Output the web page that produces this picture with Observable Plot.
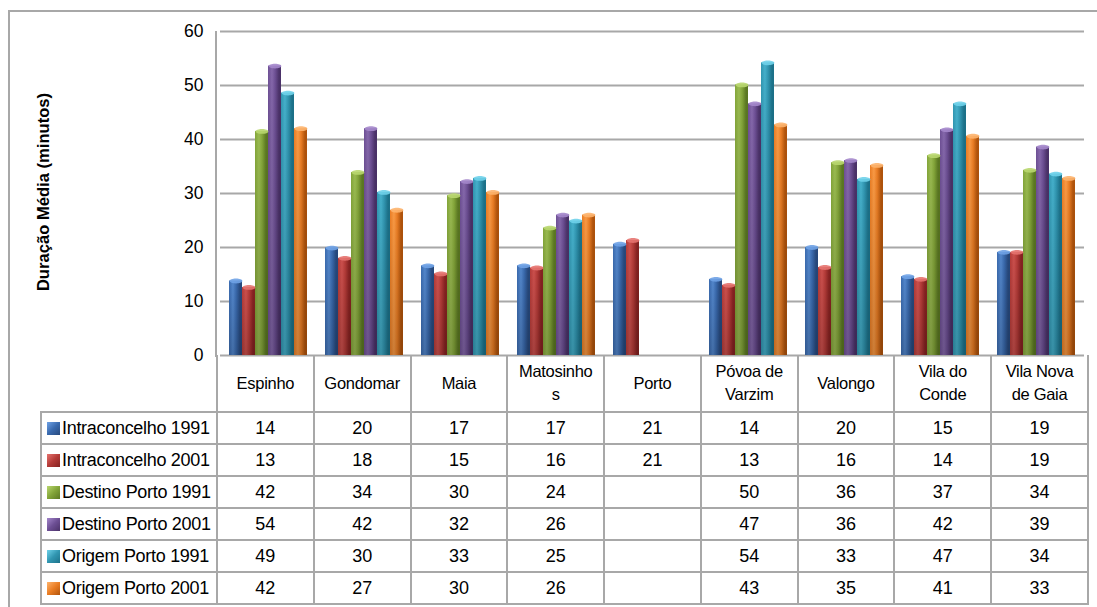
<!DOCTYPE html>
<html>
<head>
<meta charset="utf-8">
<script src="https://cdn.jsdelivr.net/npm/d3@7"></script>
<script src="https://cdn.jsdelivr.net/npm/@observablehq/plot@0.6"></script>
<style>
  html, body { margin: 0; padding: 0; background: #fff; }
  #wrap { position: relative; width: 1097px; height: 607px; overflow: hidden; font-family: "Liberation Sans", Arial, sans-serif; color: #000; }
  #outer { position: absolute; left: 8px; top: 10px; width: 1200px; height: 700px; border-left: 2px solid #a8a8a8; border-top: 2px solid #a8a8a8; }
  #chart { position: absolute; left: 0; top: 0; }
  #axisline { position: absolute; left: 215px; top: 31px; width: 2px; height: 326px; background: #a8a8a8; }
  #ytitle { position: absolute; left: 44px; top: 192px; transform: translate(-50%, -50%) rotate(-90deg); white-space: nowrap; font-weight: bold; font-size: 16.6px; }
  #tbl { position: absolute; left: 40px; top: 355px; border-collapse: collapse; table-layout: fixed; width: 1048px; }
  #tbl td { border: 2px solid #a8a8a8; padding: 0; font-size: 18px; text-align: center; height: 30px; white-space: nowrap; }
  #tbl tr.head td { border-top: none; height: 56px; line-height: 23px; font-size: 16.5px; letter-spacing: -0.3px; }
  #tbl tr.head td.blank { border: none; }
  #tbl td.leg { text-align: left; padding-left: 5px; letter-spacing: -0.3px; }
  .sw { display: inline-block; width: 13px; height: 13px; vertical-align: -1px; margin-right: 2px; }
</style>
</head>
<body>
<div id="wrap">
  <div id="outer"></div>
  <div id="chart"></div>
  <div id="ytitle"></div>
  <table id="tbl"></table>
  <div id="axisline"></div>
</div>
<script>
// ---- data ----
const categories = ["Espinho", "Gondomar", "Maia", "Matosinhos", "Porto", "Póvoa de Varzim", "Valongo", "Vila do Conde", "Vila Nova de Gaia"];
const categoryLabels = ["Espinho", "Gondomar", "Maia", "Matosinho<br>s", "Porto", "Póvoa de<br>Varzim", "Valongo", "Vila do<br>Conde", "Vila Nova<br>de Gaia"];
const seriesNames = ["Intraconcelho 1991", "Intraconcelho 2001", "Destino Porto 1991", "Destino Porto 2001", "Origem Porto 1991", "Origem Porto 2001"];
const intra1991   = [13.8, 19.9, 16.6, 16.6, 20.6, 14.1, 20.0, 14.6, 19.1];
const intra2001   = [12.6, 18.0, 15.1, 16.2, 21.3, 13.0, 16.3, 14.1, 19.1];
const destino1991 = [41.5, 33.9, 29.6, 23.6, null, 50.1, 35.7, 37.0, 34.3];
const destino2001 = [53.6, 42.0, 32.2, 26.0, null, 46.6, 36.1, 41.8, 38.6];
const origem1991  = [48.6, 30.2, 32.8, 24.9, null, 54.2, 32.6, 46.6, 33.6];
const origem2001  = [42.0, 26.9, 30.2, 26.0, null, 42.7, 35.2, 40.6, 32.8];
const yTicks = [0, 10, 20, 30, 40, 50, 60];
const yTitle = "Duração Média (minutos)";

const seriesValues = [intra1991, intra2001, destino1991, destino2001, origem1991, origem2001];
// colours: [dark, base, light, cap]
const palette = [
  ["#27497d", "#3a6aae", "#5387cc", "#6fa2e6"],
  ["#852221", "#b43b38", "#cc504d", "#e6736f"],
  ["#5b7822", "#83a539", "#9abb51", "#b9d76f"],
  ["#4b3269", "#6d4f94", "#8568ab", "#a487cb"],
  ["#1c728a", "#3196b1", "#45b0cb", "#6fd2ea"],
  ["#b1540c", "#ea7d24", "#f99a45", "#fdb46e"]
];

const rows = [];
categories.forEach((c, i) => {
  seriesNames.forEach((s, j) => {
    const v = seriesValues[j][i];
    if (v != null) rows.push({cat: c, series: s, value: v, j});
  });
});

const ellipse = {
  draw(ctx) {
    const rx = 6.4, ry = 2.4, k = 0.5523;
    ctx.moveTo(-rx, 0);
    ctx.bezierCurveTo(-rx, -ry * k, -rx * k, -ry, 0, -ry);
    ctx.bezierCurveTo(rx * k, -ry, rx, -ry * k, rx, 0);
    ctx.bezierCurveTo(rx, ry * k, rx * k, ry, 0, ry);
    ctx.bezierCurveTo(-rx * k, ry, -rx, ry * k, -rx, 0);
    ctx.closePath();
  }
};

const barMarks = [];
seriesNames.forEach((s, j) => {
  const d = rows.filter(r => r.series === s);
  barMarks.push(Plot.barY(d, {fx: "cat", x: "series", y: "value", fill: `url(#grad${j})`}));
});
barMarks.push(Plot.barY(rows, {fx: "cat", x: "series", y: "value", fill: "url(#vshade)"}));
seriesNames.forEach((s, j) => {
  const d = rows.filter(r => r.series === s);
  barMarks.push(Plot.dot(d, {fx: "cat", x: "series", y: "value", symbol: ellipse, r: 3, fill: palette[j][3], fillOpacity: 0.9, stroke: null}));
});

const chart = Plot.plot({
  width: 1097,
  height: 370,
  marginTop: 31,
  marginBottom: 15,
  marginLeft: 216,
  marginRight: 10,
  style: {fontFamily: "'Liberation Sans', Arial, sans-serif", fontSize: "17px", color: "#000", background: "transparent"},
  fx: {domain: categories, padding: 0, axis: null, label: null},
  x: {domain: seriesNames, paddingInner: 0, paddingOuter: 0.63, axis: null, label: null},
  y: {domain: [0, 60], axis: null, label: null},
  marks: [
    Plot.gridY(yTicks, {stroke: "#a8a8a8", strokeOpacity: 1, strokeWidth: 2}),
    Plot.axisY(yTicks, {tickSize: 0, tickPadding: 17, fontSize: 17.5, fill: "#000", label: null}),
    ...barMarks
  ]
});

// gradient defs
const svg = d3.select(chart);
const defs = svg.insert("defs", ":first-child");
palette.forEach((p, j) => {
  const g = defs.append("linearGradient").attr("id", `grad${j}`).attr("x1", 0).attr("x2", 1).attr("y1", 0).attr("y2", 0);
  [[0, p[1]], [0.3, p[2]], [0.55, p[1]], [0.85, p[0]], [1, p[0]]].forEach(([o, c]) => {
    g.append("stop").attr("offset", o).attr("stop-color", c);
  });
});
const vs = defs.append("linearGradient").attr("id", "vshade").attr("x1", 0).attr("x2", 0).attr("y1", 0).attr("y2", 1);
vs.append("stop").attr("offset", 0).attr("stop-color", "#000").attr("stop-opacity", 0);
vs.append("stop").attr("offset", 1).attr("stop-color", "#000").attr("stop-opacity", 0.18);

document.getElementById("chart").appendChild(chart);
document.getElementById("ytitle").textContent = yTitle;

// data table
const fmt = d3.format(".0f");
const tbl = d3.select("#tbl");
const cg = tbl.append("colgroup");
cg.append("col").style("width", "176px");
categories.forEach(() => cg.append("col").style("width", (871 / 9) + "px"));
const head = tbl.append("tr").attr("class", "head");
head.append("td").attr("class", "blank");
categoryLabels.forEach(l => head.append("td").html(l));
seriesNames.forEach((s, j) => {
  const tr = tbl.append("tr");
  const p = palette[j];
  const td = tr.append("td").attr("class", "leg");
  td.append("span").attr("class", "sw").style("background", `linear-gradient(135deg, ${p[3]} 0%, ${p[1]} 50%, ${p[0]} 100%)`);
  td.append("span").text(s);
  seriesValues[j].forEach(v => tr.append("td").text(v == null ? "" : fmt(v)));
});
</script>
</body>
</html>
